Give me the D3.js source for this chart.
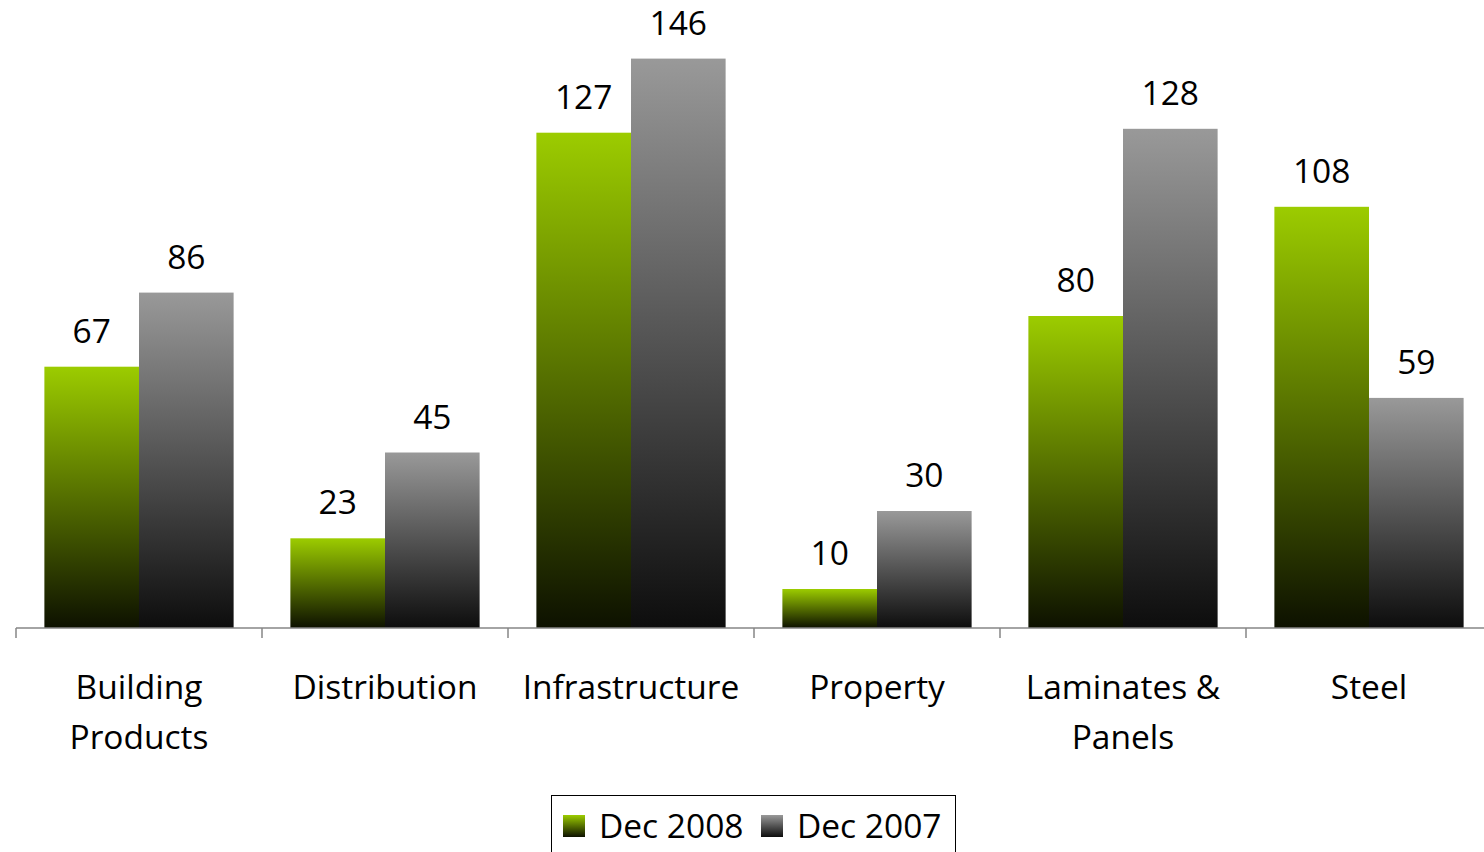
<!DOCTYPE html>
<html><head><meta charset="utf-8">
<script src="https://cdn.jsdelivr.net/npm/d3@7"></script>
<style>body{margin:0;background:#fff;}svg{display:block;}</style>
</head><body>
<script>
const categories = [["Building","Products"],["Distribution"],["Infrastructure"],["Property"],["Laminates &","Panels"],["Steel"]];
const seriesNames = ["Dec 2008","Dec 2007"];
const dec2008 = [67,23,127,10,80,108];
const dec2007 = [86,45,146,30,128,59];

const W=1484,H=852;
const svg=d3.select("body").append("svg").attr("width",W).attr("height",H);
const font="'Open Sans', sans-serif";
const fs=33.5;
const defs=svg.append("defs");
const gradStops=[[["0%","#9ccc00"],["100%","#0d1100"]],[["0%","#999999"],["100%","#0d0d0d"]]];
gradStops.forEach((s,i)=>{
  const g=defs.append("linearGradient").attr("id","g"+i).attr("x1",0).attr("y1",0).attr("x2",0).attr("y2",1);
  s.forEach(st=>g.append("stop").attr("offset",st[0]).attr("stop-color",st[1]));
});
const idx=d3.range(categories.length);
const x0=d3.scaleBand().domain(idx).range([16,16+246*6]).padding(0);
const x1=d3.scaleBand().domain([0,1]).range([0,x0.bandwidth()]).paddingInner(0).paddingOuter(0.3);
const y=d3.scaleLinear().domain([0,150]).range([628,628-150*3.90]);
const data=[dec2008,dec2007];
idx.forEach(i=>{
  [0,1].forEach(s=>{
    const v=data[s][i];
    svg.append("rect").attr("x",x0(i)+x1(s)).attr("y",y(v)).attr("width",x1.bandwidth()).attr("height",y(0)-y(v)).attr("fill","url(#g"+s+")");
    svg.append("text").attr("x",x0(i)+x1(s)+x1.bandwidth()/2).attr("y",y(v)-24).attr("text-anchor","middle")
      .attr("font-family",font).attr("font-size",fs).attr("fill","#000").text(v);
  });
});
// axis
const ax=svg.append("g").attr("transform","translate(0,628)");
ax.append("line").attr("x1",16).attr("x2",W).attr("y1",0).attr("y2",0).attr("stroke","#868686").attr("stroke-width",1.5);
idx.forEach(i=>{
  ax.append("line").attr("x1",x0(i)).attr("x2",x0(i)).attr("y1",0).attr("y2",10).attr("stroke","#868686").attr("stroke-width",1.5);
  const t=ax.append("text").attr("text-anchor","middle").attr("font-family",font).attr("font-size",fs).attr("fill","#000");
  categories[i].forEach((ln,k)=>t.append("tspan").attr("x",x0(i)+x0.bandwidth()/2).attr("y",71+k*50).text(ln));
});
// legend
const lg=svg.append("g");
lg.append("rect").attr("x",551.5).attr("y",795.5).attr("width",404).attr("height",70).attr("fill","#fff").attr("stroke","#000").attr("stroke-width",1);
const lx=[563,761];
seriesNames.forEach((n,s)=>{
  lg.append("rect").attr("x",lx[s]).attr("y",815).attr("width",22).attr("height",22).attr("fill","url(#g"+s+")");
  lg.append("text").attr("x",lx[s]+36).attr("y",838).attr("font-family",font).attr("font-size",fs).attr("fill","#000").text(n);
});
</script>
</body></html>
